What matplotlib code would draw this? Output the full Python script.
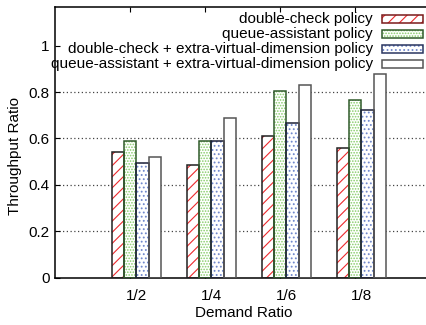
import matplotlib
matplotlib.use("Agg")
import matplotlib.pyplot as plt
import matplotlib.transforms as mtransforms
from matplotlib.patches import Rectangle
import numpy as np

plt.rcParams['font.family'] = ['Liberation Sans', 'DejaVu Sans']
plt.rcParams['font.size'] = 11
plt.rcParams['hatch.linewidth'] = 0.8

# data
demand = ['1/2', '1/4', '1/6', '1/8']
policies = ['double-check policy',
            'queue-assistant policy',
            'double-check + extra-virtual-dimension policy',
            'queue-assistant + extra-virtual-dimension policy']
double_check = [0.542, 0.484, 0.609, 0.558]
queue_assist = [0.590, 0.590, 0.806, 0.767]
double_check_evd = [0.493, 0.588, 0.668, 0.722]
queue_assist_evd = [0.522, 0.687, 0.831, 0.879]
series = [double_check, queue_assist, double_check_evd, queue_assist_evd]

hatches = ['///', '......', '....', '']
hatch_colors = ['#ec2a2e', '#86cc68', '#7088cc', 'white']
edge_colors = ['#202020', '#2f5a2a', '#1c2038', '#555555']
swatch_edges = ['#7a1a1a', '#2f5a2a', '#2a3560', '#555555']

W, H = 427, 325
fig = plt.figure(figsize=(W / 100, H / 100), dpi=100)
# axes in pixel units (right side runs off the canvas)
left, right, top, bottom = 55, 445, 6.7, 277.7
ax = fig.add_axes([left / W, 1 - bottom / H, (right - left) / W, (bottom - top) / H])

x = np.arange(len(demand))
width = 0.165
offsets = [-0.244, -0.079, 0.086, 0.251]

for vals, off, h, hc, ec in zip(series, offsets, hatches, hatch_colors, edge_colors):
    ax.bar(x + off, vals, width, align='edge', color='white', edgecolor=hc,
           hatch=h, linewidth=0, zorder=2)
    ax.bar(x + off, vals, width, align='edge', fill=False, edgecolor=ec,
           linewidth=1.1, zorder=3)

ax.set_xlim(-1, -1 + (right - left) / 75)
ax.set_ylim(0, 1.168)

grid_levels = [0.2, 0.4, 0.6, 0.8]
ax.hlines(grid_levels, -1, 10, colors='#444444', linestyles=(0, (1, 2)),
          linewidth=0.9, zorder=1)

ax.set_xticks(x)
ax.set_xticklabels(demand)
ax.set_yticks([0, 0.2, 0.4, 0.6, 0.8, 1])
ax.set_yticklabels(['0', '0.2', '0.4', '0.6', '0.8', '1'])
ax.tick_params(axis='x', direction='in', length=3.5, width=0.8, top=True, pad=8)
ax.tick_params(axis='y', direction='in', length=3.5, width=0.8, right=False, pad=4)
shift = mtransforms.ScaledTranslation(6.7 / 100, 0, fig.dpi_scale_trans)
for lbl in ax.get_xticklabels():
    lbl.set_transform(lbl.get_transform() + shift)
for sp in ax.spines.values():
    sp.set_linewidth(1.1)

fig.text(244 / W, 1 - 313 / H, 'Demand Ratio', ha='center', va='center')
fig.text(15 / W, 1 - 156 / H, 'Throughput Ratio', ha='center', va='center',
         rotation=90)

# key at the top right: label, then a swatch
rows = [19, 34, 49.3, 64.3]
for name, yrow, h, hc, se in zip(policies, rows, hatches, hatch_colors, swatch_edges):
    fig.text(372.7 / W, 1 - yrow / H, name, ha='right', va='center')
    fig.patches.append(Rectangle((381.7 / W, 1 - (yrow + 4) / H), 41.6 / W, 8 / H,
                                 transform=fig.transFigure, facecolor='white',
                                 edgecolor=hc, hatch=h, linewidth=0))
    fig.patches.append(Rectangle((381.7 / W, 1 - (yrow + 4) / H), 41.6 / W, 8 / H,
                                 transform=fig.transFigure, fill=False,
                                 edgecolor=se, linewidth=1.1))

fig.savefig('out.png', dpi=100)
